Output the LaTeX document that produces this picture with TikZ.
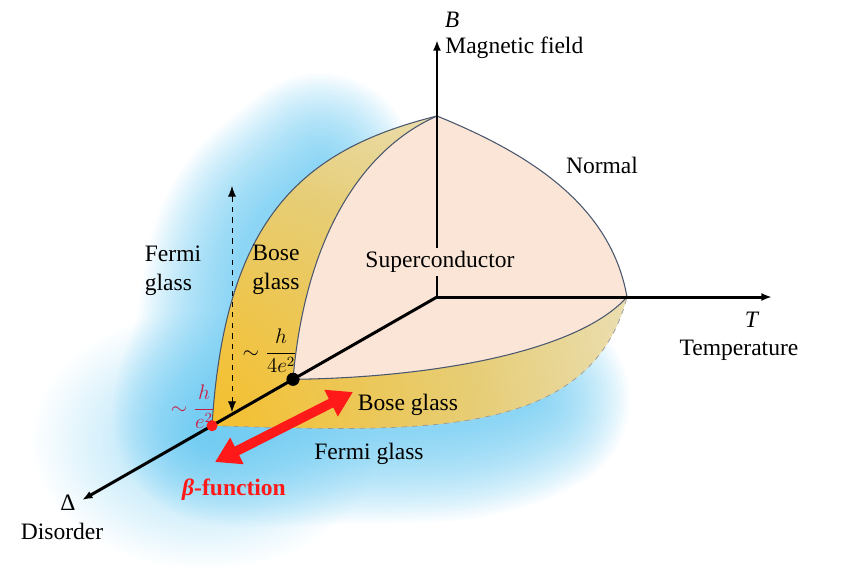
\documentclass[tikz,border=0pt]{standalone}
\usepackage{fontspec}
\setmainfont{Liberation Serif}
\usetikzlibrary{arrows.meta, fadings}
\definecolor{peach}{RGB}{251,229,214}
\definecolor{rimcol}{RGB}{72,86,110}
\definecolor{glowblue}{RGB}{90,195,240}
\definecolor{bandA}{RGB}{246,190,38}
\definecolor{bandB}{RGB}{230,205,118}
\definecolor{bandC}{RGB}{238,234,218}
\definecolor{betared}{RGB}{255,25,25}
\definecolor{fracred}{RGB}{200,30,70}
\pgfdeclareradialshading{bandglow}{\pgfpoint{-50bp}{-35bp}}{color(0bp)=(bandA); color(15bp)=(bandA); color(38bp)=(bandB); color(60bp)=(bandC); color(100bp)=(bandC)}
\tikzfading[name=glowfade, inner color=transparent!40, outer color=transparent!100]
\begin{document}
\begin{tikzpicture}[
                x = 0.02cm, y = -0.02cm,
                > = {Latex[length=6pt, width=4.5pt]},
                lbl/.style = {font = \fontsize{13.4}{16.4}\selectfont, inner sep = 0pt},
                frac/.style = {font = \fontsize{12}{14}\selectfont, inner sep = 0pt},
                dot/.style = {circle, fill, inner sep = 0mm, minimum size = 7.5pt},
                axis/.style = {draw, line width = 1.7pt, ->},
                rim/.style = {draw = rimcol, line width = 0.6pt},
                hint/.style = {draw, thin, dashed, <->},
                flow/.style = {draw = betared, line width = 5.5pt,
                    {Triangle[length=14pt, width=16pt]}-{Triangle[length=14pt, width=16pt]}},
            ]
            \useasboundingbox (0,0) rectangle (843,566);

            \coordinate (O) at (437,297);
            \coordinate (Bend) at (437,40);
            \coordinate (Tend) at (772,297);
            \coordinate (Dend) at (82,500);
            \coordinate (apex) at (437,116);
            \coordinate (Tc) at (627,297);
            \coordinate (Hc) at (212,425.7);
            \coordinate (Hs) at (293,379.3);

            % blue glow round the glass region
            \fill[glowblue, path fading = glowfade] (205,440) ellipse [x radius = 175, y radius = 130];
            \foreach \w in {190,185,...,10}
                \draw[glowblue, opacity = 0.03, line width = \w*0.567pt, line cap = round, line join = round]
                    plot[smooth] coordinates {(320,168) (267,213) (243,260) (230,337) (212,426) (350,429) (450,426) (505,414) (535,400)};

            % glass band and superconducting dome
            \shade[shading = bandglow] (apex) .. controls (300,150) and (225,220) .. (Hc)
                .. controls (420,432) and (590,440) .. (Tc)
                .. controls (610,200) and (520,150) .. (apex) -- cycle;
            \fill[peach] (apex) .. controls (360,150) and (305,240) .. (Hs)
                .. controls (420,378) and (575,355) .. (Tc)
                .. controls (610,200) and (520,150) .. (apex) -- cycle;

            \path[rim] (apex) .. controls (300,150) and (225,220) .. (Hc);
            \path[draw = gray!80, thin, dashed] (Hc) .. controls (420,432) and (590,440) .. (Tc);
            \path[rim] (apex) .. controls (360,150) and (305,240) .. (Hs);
            \path[rim] (Hs) .. controls (420,378) and (575,355) .. (Tc);
            \path[rim] (Tc) .. controls (610,200) and (520,150) .. (apex);

            % axes
            \path[axis] (O) -- (Tend);
            \path[axis] (O) -- (Bend);
            \path[axis] (O) -- (Dend);

            \node (SC) [lbl, fill = peach, inner sep = 2pt] at (440,262) {Superconductor};

            \coordinate (Up) at (232,186);
            \coordinate (Down) at (232,412);
            \path[hint] (Down) -- (Up);

            \coordinate (F1) at (215,462);
            \coordinate (F2) at (353,392);
            \path[flow] (F1) -- (F2);

            \node (HS) [dot] at (Hs) {};
            \node (HC) [dot, fill = betared, minimum size = 6.3pt] at (Hc) {};

            \node (BL) [lbl] at (452,20) {\textit{B}};
            \node (BN) [lbl, anchor = west] at (445,48) {Magnetic field};
            \node (TL) [lbl] at (752,320) {\textit{T}};
            \node (TN) [lbl] at (739,350) {Temperature};
            \node (DL) [lbl] at (68,503) {Δ};
            \node (DN) [lbl] at (62,531) {Disorder};

            \node (NO) [lbl] at (602,165) {Normal};
            \node (BG1) [lbl, align = left] at (276,270) {Bose\\glass};
            \node (FG1) [lbl, align = left] at (173,271) {Fermi\\glass};
            \node (BG2) [lbl] at (408,405) {Bose glass};
            \node (FG2) [lbl] at (369,454) {Fermi glass};
            \node (QS) [frac] at (270,351) {$\displaystyle\sim\frac{h}{4e^2}$};
            \node (QN) [frac, text = fracred] at (193,407) {$\displaystyle\sim\frac{h}{e^2}$};
            \node (BF) [lbl, text = betared] at (234,490) {\bfseries\itshape β\upshape-function};
        \end{tikzpicture}
\end{document}
